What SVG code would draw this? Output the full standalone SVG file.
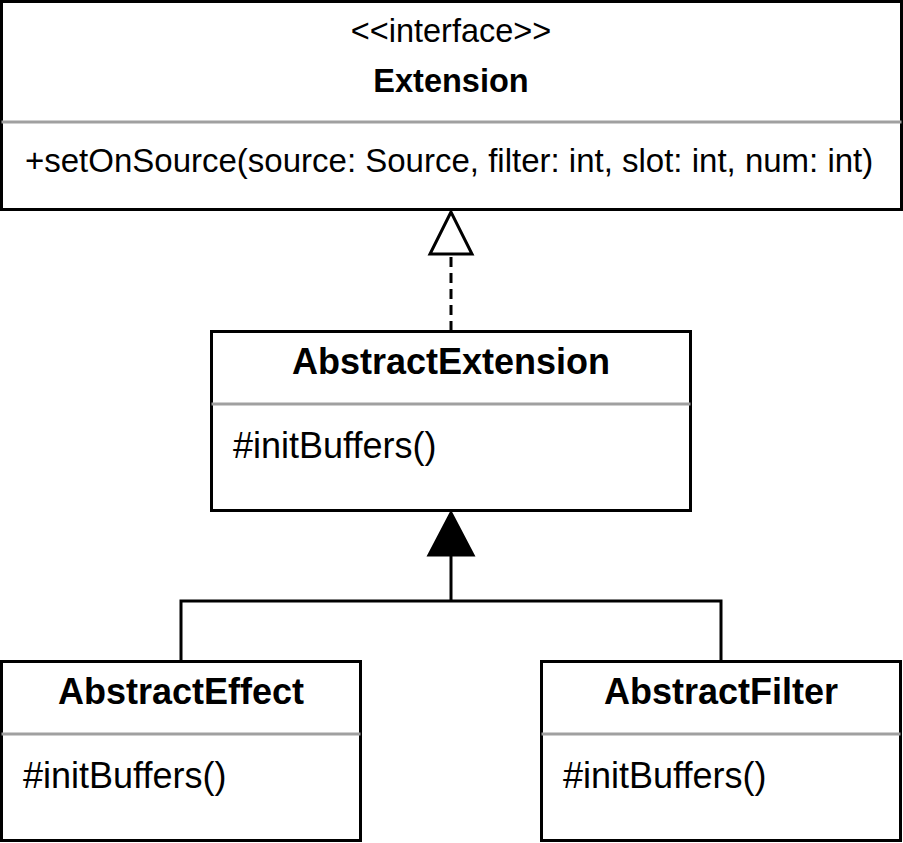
<svg xmlns="http://www.w3.org/2000/svg" width="903" height="843" viewBox="0 0 903 843">
<style>
.box{fill:#fff;stroke:#000;stroke-width:3}
.sep{stroke:#a0a0a0;stroke-width:3}
.t{font-family:"Liberation Sans",Arial,sans-serif;fill:#000}
.title{font-size:36px;font-weight:bold;text-anchor:middle}
.ititle{font-size:32.5px;font-weight:bold;text-anchor:middle}
.stereo{font-size:32.5px;text-anchor:middle}
.op{font-size:36px}
.iop{font-size:33px}
.line{fill:none;stroke:#000;stroke-width:3}
</style>
<rect width="903" height="843" fill="#fff"/>
<g id="connectors">
<line class="line" x1="451" y1="331" x2="451" y2="254" stroke-dasharray="10,6"/>
<polygon points="451,212 430,254 472,254" fill="#fff" stroke="#000" stroke-width="3"/>
<polyline class="line" points="181,661 181,601 721,601 721,661"/>
<line class="line" x1="451" y1="601" x2="451" y2="555"/>
<polygon points="451,513 429,555 473,555" fill="#000" stroke="#000" stroke-width="3"/>
</g>
<g id="Extension">
<rect class="box" x="1.5" y="1.5" width="900" height="208"/>
<text class="t stereo" x="451" y="42">&lt;&lt;interface&gt;&gt;</text>
<text class="t ititle" x="451" y="92">Extension</text>
<line class="sep" x1="1.5" y1="122" x2="901.5" y2="122"/>
<text class="t iop" x="25" y="172">+setOnSource(source: Source, filter: int, slot: int, num: int)</text>
</g>
<g id="AbstractExtension">
<rect class="box" x="211.5" y="331.5" width="479" height="179"/>
<text class="t title" x="451" y="374">AbstractExtension</text>
<line class="sep" x1="211.5" y1="404" x2="690.5" y2="404"/>
<text class="t op" x="233" y="458">#initBuffers()</text>
</g>
<g id="AbstractEffect">
<rect class="box" x="1.5" y="661.5" width="359" height="179"/>
<text class="t title" x="181" y="704">AbstractEffect</text>
<line class="sep" x1="1.5" y1="734" x2="360.5" y2="734"/>
<text class="t op" x="23" y="788">#initBuffers()</text>
</g>
<g id="AbstractFilter">
<rect class="box" x="541.5" y="661.5" width="359" height="179"/>
<text class="t title" x="721" y="704">AbstractFilter</text>
<line class="sep" x1="541.5" y1="734" x2="900.5" y2="734"/>
<text class="t op" x="563" y="788">#initBuffers()</text>
</g>
</svg>
